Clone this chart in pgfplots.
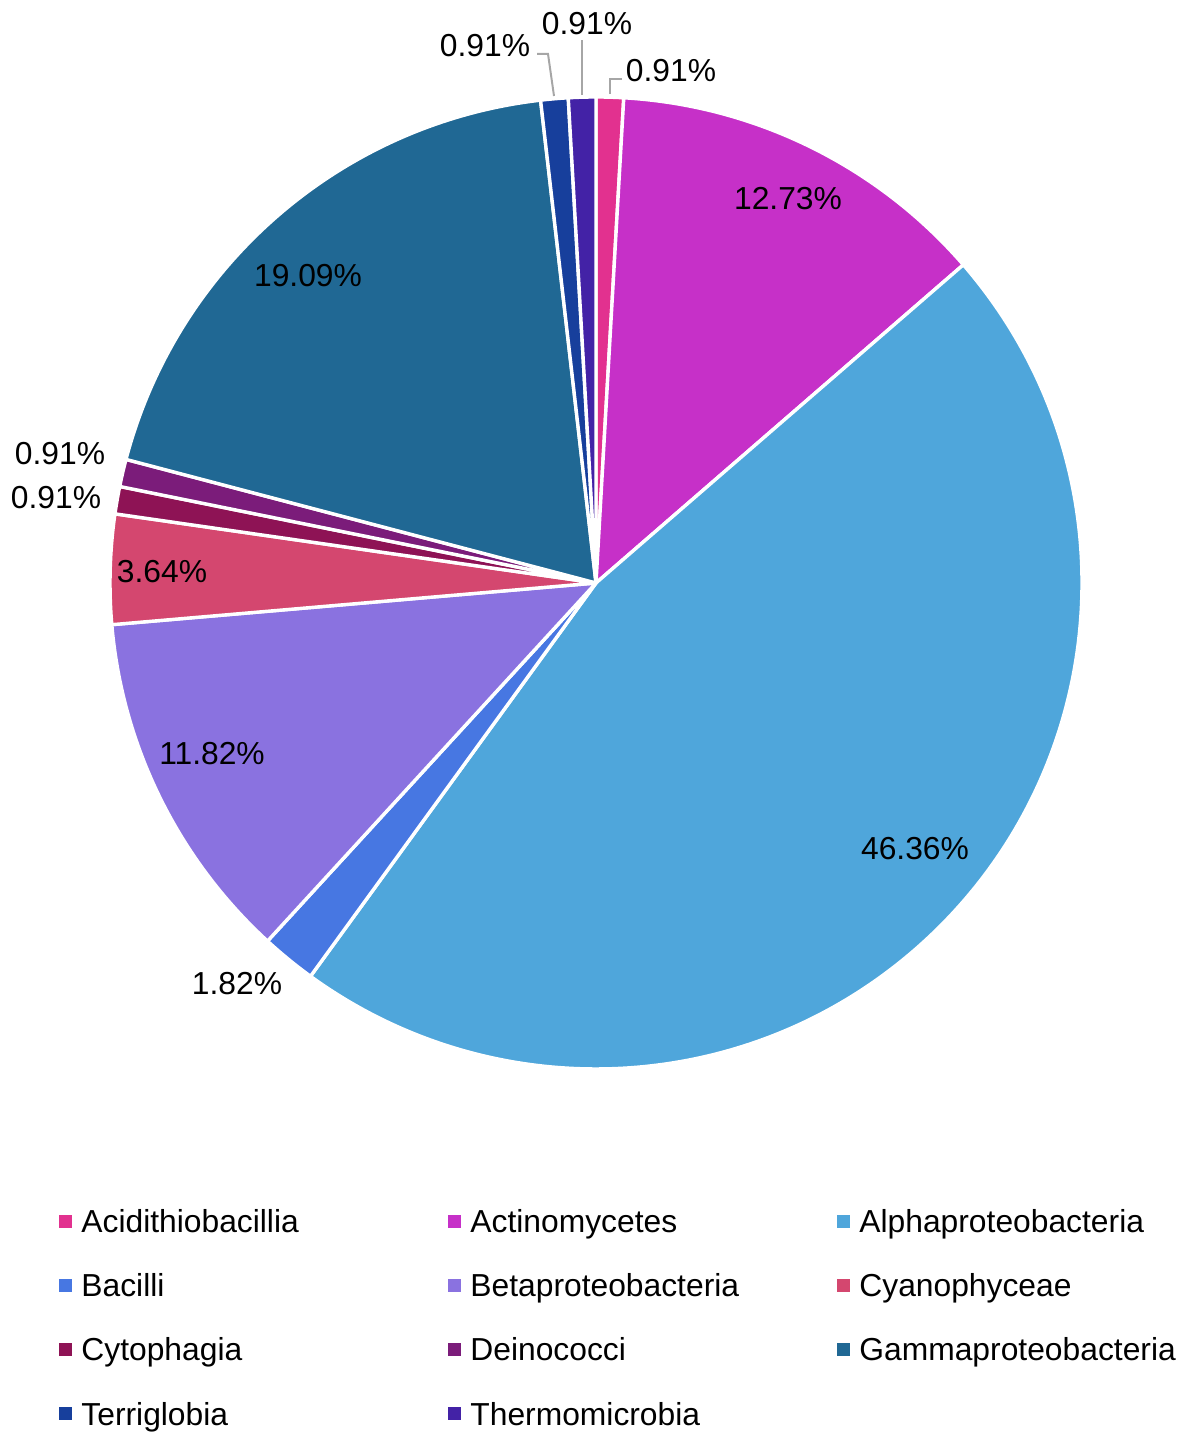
\documentclass[border=0pt]{standalone}
\usepackage{pgfplots}
\pgfplotsset{compat=1.18}
\usepackage{fontspec}
\setmainfont{Liberation Sans}

\definecolor{cAcid}{HTML}{E2318F}
\definecolor{cActino}{HTML}{C630C8}
\definecolor{cAlpha}{HTML}{4FA6DB}
\definecolor{cBacilli}{HTML}{4777E2}
\definecolor{cBeta}{HTML}{8A72E0}
\definecolor{cCyano}{HTML}{D4476F}
\definecolor{cCyto}{HTML}{8E1355}
\definecolor{cDeino}{HTML}{7B1C7A}
\definecolor{cGamma}{HTML}{206894}
\definecolor{cTerri}{HTML}{173F9C}
\definecolor{cThermo}{HTML}{4322A6}
\definecolor{leader}{HTML}{A6A6A6}

\tikzset{txt/.style={inner sep=0pt, font=\fontsize{15.9}{18}\selectfont}}

% running total of the shares already drawn (in percent)
\def\cum{0}
\def\total{100.01}
% \pieslice{share in percent}{colour}: wedge clockwise from 12 o'clock
\newcommand\pieslice[2]{%
  \pgfmathsetmacro\sa{90-\cum*(360/\total)}%
  \pgfmathsetmacro\newcum{\cum+#1}\xdef\cum{\newcum}%
  \pgfmathsetmacro\ea{90-\cum*(360/\total)}%
  \edef\temp{\noexpand\fill[#2, draw=white, line width=1.7pt, line join=round]
    (axis cs:596,850) -- ++(\sa:243pt)
    arc[start angle=\sa, end angle=\ea, radius=243pt] -- cycle;}%
  \temp}

% legend entry: square and name, with baseline at image row y
\newcommand\legentry[4]{%
  \fill[#4] (axis cs:#1,{1433-#3+5}) rectangle (axis cs:{#1+12.5},{1433-#3+17.5});
  \node[txt, anchor=base west] at (axis cs:{#1+22},{1433-#3}) {#2};}

\begin{document}
\begin{tikzpicture}[font=\fontsize{15.9}{18}\selectfont]
\begin{axis}[
  width=592.5pt, height=716.5pt, scale only axis,
  xmin=0, xmax=1185, ymin=0, ymax=1433,
  hide axis, clip=false]
\path (axis cs:0,0) (axis cs:1185,1433);

\pieslice{0.91}{cAcid}
\pieslice{12.73}{cActino}
\pieslice{46.36}{cAlpha}
\pieslice{1.82}{cBacilli}
\pieslice{11.82}{cBeta}
\pieslice{3.64}{cCyano}
\pieslice{0.91}{cCyto}
\pieslice{0.91}{cDeino}
\pieslice{19.09}{cGamma}
\pieslice{0.91}{cTerri}
\pieslice{0.91}{cThermo}

% leader lines of the three labels at the top
\draw[leader, line width=1pt] (axis cs:610,{1433-94}) -- (axis cs:610,{1433-79}) -- (axis cs:622,{1433-79});
\draw[leader, line width=1pt] (axis cs:582,{1433-95}) -- (axis cs:582,{1433-40});
\draw[leader, line width=1pt] (axis cs:554,{1433-96}) -- (axis cs:548,{1433-54}) -- (axis cs:537,{1433-54});

% data labels
\node[txt] at (axis cs:671,{1433-71}) {0.91\%};
\node[txt] at (axis cs:788,{1433-199}) {12.73\%};
\node[txt] at (axis cs:915,{1433-849}) {46.36\%};
\node[txt] at (axis cs:237,{1433-984}) {1.82\%};
\node[txt] at (axis cs:212,{1433-754}) {11.82\%};
\node[txt] at (axis cs:162,{1433-572}) {3.64\%};
\node[txt] at (axis cs:56,{1433-498}) {0.91\%};
\node[txt] at (axis cs:60,{1433-454}) {0.91\%};
\node[txt] at (axis cs:308,{1433-276}) {19.09\%};
\node[txt] at (axis cs:485,{1433-46}) {0.91\%};
\node[txt] at (axis cs:587,{1433-24}) {0.91\%};

% legend
\legentry{59}{Acidithiobacillia}{1233}{cAcid}
\legentry{448}{Actinomycetes}{1233}{cActino}
\legentry{837}{Alphaproteobacteria}{1233}{cAlpha}
\legentry{59}{Bacilli}{1297}{cBacilli}
\legentry{448}{Betaproteobacteria}{1297}{cBeta}
\legentry{837}{Cyanophyceae}{1297}{cCyano}
\legentry{59}{Cytophagia}{1361}{cCyto}
\legentry{448}{Deinococci}{1361}{cDeino}
\legentry{837}{Gammaproteobacteria}{1361}{cGamma}
\legentry{59}{Terriglobia}{1425}{cTerri}
\legentry{448}{Thermomicrobia}{1425}{cThermo}
\end{axis}
\end{tikzpicture}
\end{document}
